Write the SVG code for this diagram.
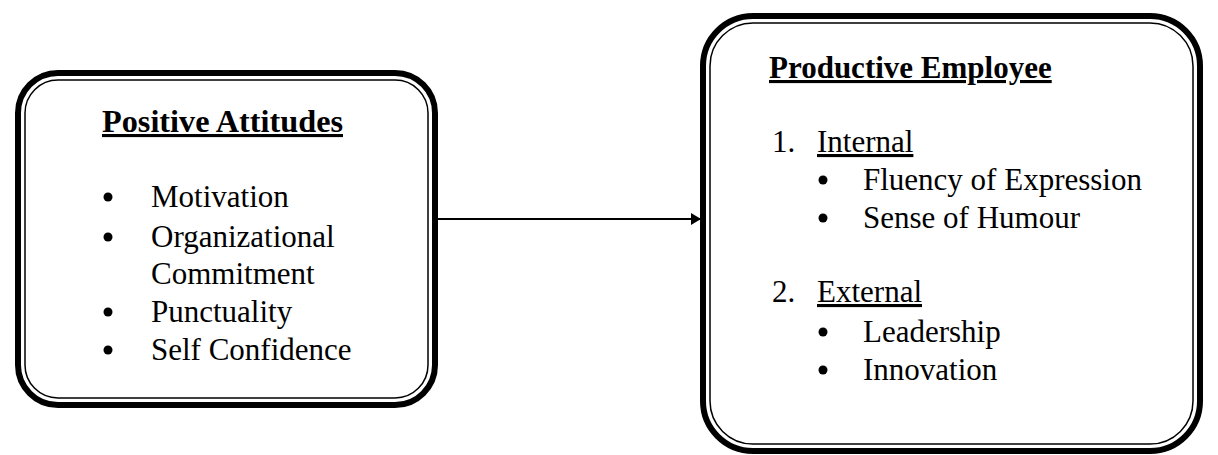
<svg xmlns="http://www.w3.org/2000/svg" width="1218" height="455" viewBox="0 0 1218 455">
<style>
.outer{fill:#fff;stroke:#000;stroke-width:6}
.inner{fill:none;stroke:#000;stroke-width:1.5}
text{font-family:"Liberation Serif","Times New Roman",serif;font-size:31px;fill:#000}
.h{font-weight:bold;text-decoration:underline}
.u{text-decoration:underline}
.conn{stroke:#000;stroke-width:2;fill:none}
</style>
<defs>
<marker id="arr" markerWidth="10" markerHeight="12" refX="9" refY="6" orient="auto" markerUnits="userSpaceOnUse">
<path d="M0,0 L10,6 L0,12 Z" fill="#000"/>
</marker>
</defs>
<g id="connectors">
<line class="conn" x1="438" y1="219" x2="700" y2="219" marker-end="url(#arr)"/>
</g>
<g id="positive-attitudes">
<rect class="outer" x="18" y="73" width="417" height="332" rx="40"/>
<rect class="inner" x="25" y="80" width="403" height="318" rx="33"/>
<text class="h" x="102" y="132" textLength="241" lengthAdjust="spacingAndGlyphs">Positive Attitudes</text>
<circle cx="108" cy="197" r="4.5"/>
<text x="151" y="207">Motivation</text>
<circle cx="108" cy="237" r="4.5"/>
<text x="151" y="247">Organizational</text>
<text x="151" y="284">Commitment</text>
<circle cx="108" cy="312" r="4.5"/>
<text x="151" y="322">Punctuality</text>
<circle cx="108" cy="350" r="4.5"/>
<text x="151" y="360">Self Confidence</text>
</g>
<g id="productive-employee">
<rect class="outer" x="703" y="16" width="497" height="435" rx="50"/>
<rect class="inner" x="710" y="23" width="483" height="421" rx="43"/>
<text class="h" x="769" y="78">Productive Employee</text>
<text x="772" y="152">1.</text>
<text class="u" x="817" y="152">Internal</text>
<circle cx="823" cy="180" r="4.5"/>
<text x="863" y="190">Fluency of Expression</text>
<circle cx="823" cy="218" r="4.5"/>
<text x="863" y="228">Sense of Humour</text>
<text x="772" y="302">2.</text>
<text class="u" x="817" y="302">External</text>
<circle cx="823" cy="332" r="4.5"/>
<text x="863" y="342">Leadership</text>
<circle cx="823" cy="370" r="4.5"/>
<text x="863" y="380">Innovation</text>
</g>
</svg>
